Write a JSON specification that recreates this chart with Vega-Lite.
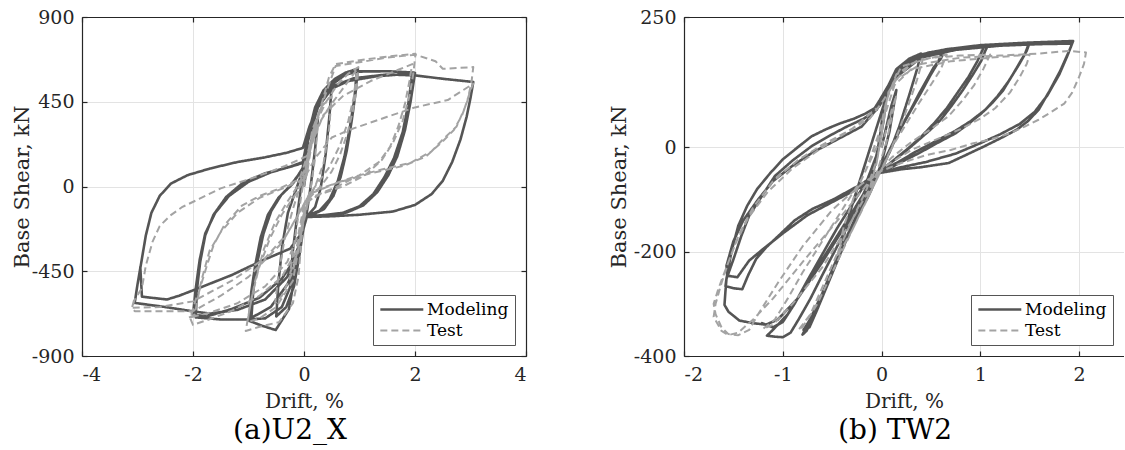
{
"$schema": "https://vega.github.io/schema/vega-lite/v6.json",
"background": "white",
"padding": {"left": 11, "top": 8, "right": 0, "bottom": 0},
"spacing": 158,
"bounds": "flush",
"config": {
 "font": "DejaVu Serif",
 "view": {"stroke": null},
 "axis": {"labelFont": "DejaVu Serif", "titleFont": "DejaVu Serif", "labelFontSize": 19, "titleFontSize": 20, "titleFontWeight": "normal", "labelColor": "#262626", "titleColor": "#262626", "domainColor": "#262626", "domainWidth": 1.2, "tickColor": "#262626", "tickSize": -5, "tickWidth": 1.2, "gridColor": "#e3e3e3", "gridWidth": 1, "labelExpr": "'' + datum.value"},
 "axisX": {"labelPadding": 14, "titlePadding": 7},
 "axisY": {"labelPadding": 13, "titlePadding": 2, "titleFontSize": 21},
 "legend": {"orient": "bottom-right", "offset": 11, "symbolType": "M-1,0H5", "symbolSize": 205, "symbolStrokeWidth": 2.5, "labelOffset": 31, "labelFontSize": 17, "labelFont": "DejaVu Serif", "labelColor": "#000", "strokeColor": "#555", "fillColor": "#fff", "padding": 6, "rowPadding": 3},
 "title": {"font": "DejaVu Serif", "fontWeight": "normal", "fontSize": 28, "color": "#000"}
},
"datasets": {
"a": [
{"s":"Modeling","i":1,"x":0,"y":0},{"s":"Modeling","i":2,"x":0.1,"y":200},{"s":"Modeling","i":3,"x":0.2,"y":320},{"s":"Modeling","i":4,"x":0.25,"y":360},{"s":"Modeling","i":5,"x":0.2,"y":200},{"s":"Modeling","i":6,"x":0.12,"y":0},{"s":"Modeling","i":7,"x":0.05,"y":-140},{"s":"Modeling","i":8,"x":0,"y":-170},{"s":"Modeling","i":9,"x":-0.08,"y":-320},{"s":"Modeling","i":10,"x":-0.18,"y":-470},
{"s":"Modeling","i":11,"x":-0.25,"y":-530},{"s":"Modeling","i":12,"x":-0.2,"y":-340},{"s":"Modeling","i":13,"x":-0.12,"y":-150},{"s":"Modeling","i":14,"x":-0.03,"y":50},{"s":"Modeling","i":15,"x":0.03,"y":150},{"s":"Modeling","i":16,"x":0.1,"y":300},{"s":"Modeling","i":17,"x":0.2,"y":420},{"s":"Modeling","i":18,"x":0.35,"y":500},{"s":"Modeling","i":19,"x":0.5,"y":540},{"s":"Modeling","i":20,"x":0.46,"y":380},
{"s":"Modeling","i":21,"x":0.39,"y":170},{"s":"Modeling","i":22,"x":0.3,"y":-10},{"s":"Modeling","i":23,"x":0.2,"y":-110},{"s":"Modeling","i":24,"x":0.08,"y":-150},{"s":"Modeling","i":25,"x":0.02,"y":-160},{"s":"Modeling","i":26,"x":-0.08,"y":-360},{"s":"Modeling","i":27,"x":-0.18,"y":-530},{"s":"Modeling","i":28,"x":-0.32,"y":-640},{"s":"Modeling","i":29,"x":-0.5,"y":-690},{"s":"Modeling","i":30,"x":-0.46,"y":-510},
{"s":"Modeling","i":31,"x":-0.39,"y":-310},{"s":"Modeling","i":32,"x":-0.29,"y":-140},{"s":"Modeling","i":33,"x":-0.16,"y":-30},{"s":"Modeling","i":34,"x":-0.04,"y":70},{"s":"Modeling","i":35,"x":0.03,"y":170},{"s":"Modeling","i":36,"x":0.08,"y":280},{"s":"Modeling","i":37,"x":0.2,"y":420},{"s":"Modeling","i":38,"x":0.35,"y":510},{"s":"Modeling","i":39,"x":0.55,"y":570},{"s":"Modeling","i":40,"x":0.75,"y":605},
{"s":"Modeling","i":41,"x":0.97,"y":625},{"s":"Modeling","i":42,"x":0.93,"y":500},{"s":"Modeling","i":43,"x":0.86,"y":350},{"s":"Modeling","i":44,"x":0.77,"y":190},{"s":"Modeling","i":45,"x":0.66,"y":50},{"s":"Modeling","i":46,"x":0.53,"y":-50},{"s":"Modeling","i":47,"x":0.36,"y":-120},{"s":"Modeling","i":48,"x":0.15,"y":-150},{"s":"Modeling","i":49,"x":0.03,"y":-158},{"s":"Modeling","i":50,"x":-0.06,"y":-300},
{"s":"Modeling","i":51,"x":-0.14,"y":-430},{"s":"Modeling","i":52,"x":-0.27,"y":-650},{"s":"Modeling","i":53,"x":-0.51,"y":-762},{"s":"Modeling","i":54,"x":-0.75,"y":-740},{"s":"Modeling","i":55,"x":-0.99,"y":-713},{"s":"Modeling","i":56,"x":-0.95,"y":-560},{"s":"Modeling","i":57,"x":-0.88,"y":-420},{"s":"Modeling","i":58,"x":-0.78,"y":-270},{"s":"Modeling","i":59,"x":-0.65,"y":-150},{"s":"Modeling","i":60,"x":-0.46,"y":-60},
{"s":"Modeling","i":61,"x":-0.23,"y":10},{"s":"Modeling","i":62,"x":-0.03,"y":90},{"s":"Modeling","i":63,"x":0.05,"y":200},{"s":"Modeling","i":64,"x":0.12,"y":330},{"s":"Modeling","i":65,"x":0.25,"y":450},{"s":"Modeling","i":66,"x":0.45,"y":540},{"s":"Modeling","i":67,"x":0.7,"y":590},{"s":"Modeling","i":68,"x":0.95,"y":615},{"s":"Modeling","i":69,"x":0.91,"y":470},{"s":"Modeling","i":70,"x":0.83,"y":320},
{"s":"Modeling","i":71,"x":0.73,"y":160},{"s":"Modeling","i":72,"x":0.61,"y":30},{"s":"Modeling","i":73,"x":0.46,"y":-70},{"s":"Modeling","i":74,"x":0.28,"y":-128},{"s":"Modeling","i":75,"x":0.1,"y":-150},{"s":"Modeling","i":76,"x":0.02,"y":-156},{"s":"Modeling","i":77,"x":-0.08,"y":-330},{"s":"Modeling","i":78,"x":-0.2,"y":-500},{"s":"Modeling","i":79,"x":-0.4,"y":-640},{"s":"Modeling","i":80,"x":-0.7,"y":-700},
{"s":"Modeling","i":81,"x":-0.95,"y":-705},{"s":"Modeling","i":82,"x":-0.91,"y":-540},{"s":"Modeling","i":83,"x":-0.84,"y":-400},{"s":"Modeling","i":84,"x":-0.73,"y":-250},{"s":"Modeling","i":85,"x":-0.59,"y":-130},{"s":"Modeling","i":86,"x":-0.41,"y":-45},{"s":"Modeling","i":87,"x":-0.2,"y":15},{"s":"Modeling","i":88,"x":-0.02,"y":100},{"s":"Modeling","i":89,"x":0.1,"y":300},{"s":"Modeling","i":90,"x":0.3,"y":460},
{"s":"Modeling","i":91,"x":0.5,"y":540},{"s":"Modeling","i":92,"x":0.75,"y":595},{"s":"Modeling","i":93,"x":1.0,"y":610},{"s":"Modeling","i":94,"x":1.5,"y":612},{"s":"Modeling","i":95,"x":1.98,"y":605},{"s":"Modeling","i":96,"x":1.9,"y":450},{"s":"Modeling","i":97,"x":1.8,"y":300},{"s":"Modeling","i":98,"x":1.66,"y":160},{"s":"Modeling","i":99,"x":1.5,"y":60},{"s":"Modeling","i":100,"x":1.3,"y":-30},
{"s":"Modeling","i":101,"x":1.05,"y":-100},{"s":"Modeling","i":102,"x":0.75,"y":-138},{"s":"Modeling","i":103,"x":0.4,"y":-152},{"s":"Modeling","i":104,"x":0.1,"y":-158},{"s":"Modeling","i":105,"x":0.03,"y":-162},{"s":"Modeling","i":106,"x":-0.05,"y":-290},{"s":"Modeling","i":107,"x":-0.12,"y":-400},{"s":"Modeling","i":108,"x":-0.3,"y":-520},{"s":"Modeling","i":109,"x":-0.6,"y":-640},{"s":"Modeling","i":110,"x":-1.0,"y":-706},
{"s":"Modeling","i":111,"x":-1.5,"y":-706},{"s":"Modeling","i":112,"x":-1.95,"y":-695},{"s":"Modeling","i":113,"x":-1.93,"y":-550},{"s":"Modeling","i":114,"x":-1.87,"y":-400},{"s":"Modeling","i":115,"x":-1.78,"y":-260},{"s":"Modeling","i":116,"x":-1.63,"y":-150},{"s":"Modeling","i":117,"x":-1.4,"y":-55},{"s":"Modeling","i":118,"x":-1.1,"y":20},{"s":"Modeling","i":119,"x":-0.7,"y":70},{"s":"Modeling","i":120,"x":-0.3,"y":100},
{"s":"Modeling","i":121,"x":-0.02,"y":125},{"s":"Modeling","i":122,"x":0.08,"y":250},{"s":"Modeling","i":123,"x":0.25,"y":420},{"s":"Modeling","i":124,"x":0.5,"y":520},{"s":"Modeling","i":125,"x":0.8,"y":560},{"s":"Modeling","i":126,"x":1.3,"y":585},{"s":"Modeling","i":127,"x":1.95,"y":600},{"s":"Modeling","i":128,"x":1.88,"y":440},{"s":"Modeling","i":129,"x":1.78,"y":290},{"s":"Modeling","i":130,"x":1.62,"y":150},
{"s":"Modeling","i":131,"x":1.45,"y":50},{"s":"Modeling","i":132,"x":1.25,"y":-40},{"s":"Modeling","i":133,"x":1.0,"y":-105},{"s":"Modeling","i":134,"x":0.7,"y":-140},{"s":"Modeling","i":135,"x":0.35,"y":-152},{"s":"Modeling","i":136,"x":0.05,"y":-158},{"s":"Modeling","i":137,"x":-0.05,"y":-260},{"s":"Modeling","i":138,"x":-0.15,"y":-380},{"s":"Modeling","i":139,"x":-0.4,"y":-490},{"s":"Modeling","i":140,"x":-0.8,"y":-590},
{"s":"Modeling","i":141,"x":-1.3,"y":-650},{"s":"Modeling","i":142,"x":-1.75,"y":-690},{"s":"Modeling","i":143,"x":-2.0,"y":-680},{"s":"Modeling","i":144,"x":-1.95,"y":-540},{"s":"Modeling","i":145,"x":-1.88,"y":-390},{"s":"Modeling","i":146,"x":-1.78,"y":-250},{"s":"Modeling","i":147,"x":-1.6,"y":-140},{"s":"Modeling","i":148,"x":-1.35,"y":-50},{"s":"Modeling","i":149,"x":-1.0,"y":25},{"s":"Modeling","i":150,"x":-0.6,"y":75},
{"s":"Modeling","i":151,"x":-0.25,"y":105},{"s":"Modeling","i":152,"x":-0.02,"y":130},{"s":"Modeling","i":153,"x":0.08,"y":280},{"s":"Modeling","i":154,"x":0.25,"y":440},{"s":"Modeling","i":155,"x":0.5,"y":530},{"s":"Modeling","i":156,"x":0.9,"y":575},{"s":"Modeling","i":157,"x":1.5,"y":595},{"s":"Modeling","i":158,"x":2.0,"y":590},{"s":"Modeling","i":159,"x":2.5,"y":572},{"s":"Modeling","i":160,"x":3.05,"y":555},
{"s":"Modeling","i":161,"x":3.0,"y":470},{"s":"Modeling","i":162,"x":2.93,"y":370},{"s":"Modeling","i":163,"x":2.82,"y":250},{"s":"Modeling","i":164,"x":2.67,"y":130},{"s":"Modeling","i":165,"x":2.5,"y":30},{"s":"Modeling","i":166,"x":2.3,"y":-40},{"s":"Modeling","i":167,"x":2.0,"y":-98},{"s":"Modeling","i":168,"x":1.6,"y":-133},{"s":"Modeling","i":169,"x":1.0,"y":-150},{"s":"Modeling","i":170,"x":0.5,"y":-158},
{"s":"Modeling","i":171,"x":0.05,"y":-162},{"s":"Modeling","i":172,"x":-0.1,"y":-320},{"s":"Modeling","i":173,"x":-0.3,"y":-480},{"s":"Modeling","i":174,"x":-0.7,"y":-600},{"s":"Modeling","i":175,"x":-1.2,"y":-655},{"s":"Modeling","i":176,"x":-1.7,"y":-675},{"s":"Modeling","i":177,"x":-2.02,"y":-662},{"s":"Modeling","i":178,"x":-2.5,"y":-640},{"s":"Modeling","i":179,"x":-3.05,"y":-618},{"s":"Modeling","i":180,"x":-3.0,"y":-520},
{"s":"Modeling","i":181,"x":-2.93,"y":-400},{"s":"Modeling","i":182,"x":-2.85,"y":-260},{"s":"Modeling","i":183,"x":-2.75,"y":-140},{"s":"Modeling","i":184,"x":-2.6,"y":-50},{"s":"Modeling","i":185,"x":-2.4,"y":15},{"s":"Modeling","i":186,"x":-2.1,"y":60},{"s":"Modeling","i":187,"x":-1.7,"y":95},{"s":"Modeling","i":188,"x":-1.2,"y":130},{"s":"Modeling","i":189,"x":-0.7,"y":155},{"s":"Modeling","i":190,"x":-0.3,"y":180},
{"s":"Modeling","i":191,"x":-0.02,"y":205},{"s":"Modeling","i":192,"x":0.1,"y":320},{"s":"Modeling","i":193,"x":0.3,"y":460},{"s":"Modeling","i":194,"x":0.5,"y":550},{"s":"Modeling","i":195,"x":0.75,"y":605},{"s":"Modeling","i":196,"x":1.0,"y":612},{"s":"Modeling","i":197,"x":1.53,"y":612},{"s":"Modeling","i":198,"x":2.0,"y":603},{"s":"Modeling","i":199,"x":1.92,"y":450},{"s":"Modeling","i":200,"x":1.82,"y":300},
{"s":"Modeling","i":201,"x":1.68,"y":160},{"s":"Modeling","i":202,"x":1.52,"y":60},{"s":"Modeling","i":203,"x":1.32,"y":-30},{"s":"Modeling","i":204,"x":1.07,"y":-100},{"s":"Modeling","i":205,"x":0.77,"y":-138},{"s":"Modeling","i":206,"x":0.4,"y":-152},{"s":"Modeling","i":207,"x":0.05,"y":-160},{"s":"Modeling","i":208,"x":-0.05,"y":-250},{"s":"Modeling","i":209,"x":-0.25,"y":-330},{"s":"Modeling","i":210,"x":-0.76,"y":-394},
{"s":"Modeling","i":211,"x":-1.3,"y":-470},{"s":"Modeling","i":212,"x":-1.9,"y":-540},{"s":"Modeling","i":213,"x":-2.25,"y":-580},{"s":"Modeling","i":214,"x":-2.47,"y":-600},{"s":"Modeling","i":215,"x":-2.92,"y":-585},{"s":"Modeling","i":216,"x":-2.95,"y":-425},
{"s":"Test","i":1,"x":0,"y":0},{"s":"Test","i":2,"x":0.1,"y":180},{"s":"Test","i":3,"x":0.25,"y":330},{"s":"Test","i":4,"x":0.2,"y":150},{"s":"Test","i":5,"x":0.1,"y":-50},{"s":"Test","i":6,"x":0,"y":-180},{"s":"Test","i":7,"x":-0.1,"y":-330},{"s":"Test","i":8,"x":-0.25,"y":-460},{"s":"Test","i":9,"x":-0.15,"y":-250},{"s":"Test","i":10,"x":-0.05,"y":-50},
{"s":"Test","i":11,"x":0.05,"y":130},{"s":"Test","i":12,"x":0.15,"y":300},{"s":"Test","i":13,"x":0.3,"y":420},{"s":"Test","i":14,"x":0.5,"y":480},{"s":"Test","i":15,"x":0.45,"y":300},{"s":"Test","i":16,"x":0.35,"y":120},{"s":"Test","i":17,"x":0.2,"y":0},{"s":"Test","i":18,"x":0.05,"y":-90},{"s":"Test","i":19,"x":-0.05,"y":-250},{"s":"Test","i":20,"x":-0.2,"y":-450},
{"s":"Test","i":21,"x":-0.4,"y":-580},{"s":"Test","i":22,"x":-0.52,"y":-620},{"s":"Test","i":23,"x":-0.45,"y":-450},{"s":"Test","i":24,"x":-0.35,"y":-280},{"s":"Test","i":25,"x":-0.2,"y":-120},{"s":"Test","i":26,"x":-0.05,"y":20},{"s":"Test","i":27,"x":0.05,"y":140},{"s":"Test","i":28,"x":0.2,"y":330},{"s":"Test","i":29,"x":0.4,"y":450},{"s":"Test","i":30,"x":0.6,"y":540},
{"s":"Test","i":31,"x":0.8,"y":600},{"s":"Test","i":32,"x":0.98,"y":634},{"s":"Test","i":33,"x":0.95,"y":520},{"s":"Test","i":34,"x":0.88,"y":400},{"s":"Test","i":35,"x":0.78,"y":280},{"s":"Test","i":36,"x":0.65,"y":170},{"s":"Test","i":37,"x":0.5,"y":80},{"s":"Test","i":38,"x":0.3,"y":0},{"s":"Test","i":39,"x":0.1,"y":-60},{"s":"Test","i":40,"x":0,"y":-150},
{"s":"Test","i":41,"x":-0.05,"y":-300},{"s":"Test","i":42,"x":-0.1,"y":-480},{"s":"Test","i":43,"x":-0.2,"y":-620},{"s":"Test","i":44,"x":-0.45,"y":-720},{"s":"Test","i":45,"x":-0.8,"y":-745},{"s":"Test","i":46,"x":-1.05,"y":-767},{"s":"Test","i":47,"x":-0.98,"y":-650},{"s":"Test","i":48,"x":-0.88,"y":-500},{"s":"Test","i":49,"x":-0.72,"y":-330},{"s":"Test","i":50,"x":-0.52,"y":-190},
{"s":"Test","i":51,"x":-0.32,"y":-90},{"s":"Test","i":52,"x":-0.12,"y":0},{"s":"Test","i":53,"x":0.03,"y":90},{"s":"Test","i":54,"x":0.2,"y":300},{"s":"Test","i":55,"x":0.45,"y":420},{"s":"Test","i":56,"x":0.7,"y":520},{"s":"Test","i":57,"x":0.95,"y":620},{"s":"Test","i":58,"x":0.9,"y":480},{"s":"Test","i":59,"x":0.8,"y":350},{"s":"Test","i":60,"x":0.65,"y":220},
{"s":"Test","i":61,"x":0.45,"y":100},{"s":"Test","i":62,"x":0.2,"y":0},{"s":"Test","i":63,"x":0.02,"y":-80},{"s":"Test","i":64,"x":-0.08,"y":-300},{"s":"Test","i":65,"x":-0.2,"y":-500},{"s":"Test","i":66,"x":-0.5,"y":-640},{"s":"Test","i":67,"x":-0.8,"y":-700},{"s":"Test","i":68,"x":-1.02,"y":-720},{"s":"Test","i":69,"x":-0.95,"y":-600},{"s":"Test","i":70,"x":-0.82,"y":-440},
{"s":"Test","i":71,"x":-0.62,"y":-280},{"s":"Test","i":72,"x":-0.4,"y":-150},{"s":"Test","i":73,"x":-0.15,"y":-40},{"s":"Test","i":74,"x":0.05,"y":60},{"s":"Test","i":75,"x":0.15,"y":250},{"s":"Test","i":76,"x":0.3,"y":420},{"s":"Test","i":77,"x":0.45,"y":580},{"s":"Test","i":78,"x":0.57,"y":650},{"s":"Test","i":79,"x":1.0,"y":670},{"s":"Test","i":80,"x":1.5,"y":690},
{"s":"Test","i":81,"x":2.01,"y":705},{"s":"Test","i":82,"x":1.97,"y":600},{"s":"Test","i":83,"x":1.9,"y":480},{"s":"Test","i":84,"x":1.78,"y":350},{"s":"Test","i":85,"x":1.6,"y":230},{"s":"Test","i":86,"x":1.4,"y":140},{"s":"Test","i":87,"x":1.1,"y":60},{"s":"Test","i":88,"x":0.7,"y":0},{"s":"Test","i":89,"x":0.3,"y":-40},{"s":"Test","i":90,"x":0.05,"y":-80},
{"s":"Test","i":91,"x":-0.05,"y":-200},{"s":"Test","i":92,"x":-0.15,"y":-350},{"s":"Test","i":93,"x":-0.4,"y":-480},{"s":"Test","i":94,"x":-0.8,"y":-580},{"s":"Test","i":95,"x":-1.3,"y":-660},{"s":"Test","i":96,"x":-1.7,"y":-705},{"s":"Test","i":97,"x":-2.0,"y":-735},{"s":"Test","i":98,"x":-2.05,"y":-700},{"s":"Test","i":99,"x":-1.95,"y":-600},{"s":"Test","i":100,"x":-1.89,"y":-557},
{"s":"Test","i":101,"x":-1.75,"y":-420},{"s":"Test","i":102,"x":-1.63,"y":-312},{"s":"Test","i":103,"x":-1.44,"y":-207},{"s":"Test","i":104,"x":-1.12,"y":-102},{"s":"Test","i":105,"x":-0.8,"y":-50},{"s":"Test","i":106,"x":-0.47,"y":-14},{"s":"Test","i":107,"x":-0.08,"y":39},{"s":"Test","i":108,"x":0.1,"y":200},{"s":"Test","i":109,"x":0.35,"y":380},{"s":"Test","i":110,"x":0.7,"y":480},
{"s":"Test","i":111,"x":1.2,"y":560},{"s":"Test","i":112,"x":1.7,"y":620},{"s":"Test","i":113,"x":1.95,"y":650},{"s":"Test","i":114,"x":1.9,"y":560},{"s":"Test","i":115,"x":1.82,"y":440},{"s":"Test","i":116,"x":1.7,"y":320},{"s":"Test","i":117,"x":1.55,"y":210},{"s":"Test","i":118,"x":1.35,"y":130},{"s":"Test","i":119,"x":1.0,"y":60},{"s":"Test","i":120,"x":0.6,"y":0},
{"s":"Test","i":121,"x":0.2,"y":-50},{"s":"Test","i":122,"x":0,"y":-100},{"s":"Test","i":123,"x":-0.1,"y":-250},{"s":"Test","i":124,"x":-0.3,"y":-400},{"s":"Test","i":125,"x":-0.7,"y":-530},{"s":"Test","i":126,"x":-1.2,"y":-620},{"s":"Test","i":127,"x":-1.7,"y":-670},{"s":"Test","i":128,"x":-2.08,"y":-697},{"s":"Test","i":129,"x":-1.97,"y":-680},{"s":"Test","i":130,"x":-1.85,"y":-500},
{"s":"Test","i":131,"x":-1.7,"y":-340},{"s":"Test","i":132,"x":-1.5,"y":-242},{"s":"Test","i":133,"x":-1.2,"y":-140},{"s":"Test","i":134,"x":-0.8,"y":-60},{"s":"Test","i":135,"x":-0.3,"y":0},{"s":"Test","i":136,"x":0,"y":40},{"s":"Test","i":137,"x":0.2,"y":150},{"s":"Test","i":138,"x":0.5,"y":260},{"s":"Test","i":139,"x":0.82,"y":301},{"s":"Test","i":140,"x":1.5,"y":370},
{"s":"Test","i":141,"x":2.0,"y":420},{"s":"Test","i":142,"x":2.59,"y":459},{"s":"Test","i":143,"x":3.05,"y":546},{"s":"Test","i":144,"x":3.0,"y":511},{"s":"Test","i":145,"x":2.9,"y":420},{"s":"Test","i":146,"x":2.75,"y":319},{"s":"Test","i":147,"x":2.5,"y":249},{"s":"Test","i":148,"x":2.3,"y":187},{"s":"Test","i":149,"x":1.92,"y":126},{"s":"Test","i":150,"x":1.4,"y":90},
{"s":"Test","i":151,"x":0.95,"y":56},{"s":"Test","i":152,"x":0.5,"y":10},{"s":"Test","i":153,"x":0.11,"y":-31},{"s":"Test","i":154,"x":-0.05,"y":-120},{"s":"Test","i":155,"x":-0.3,"y":-250},{"s":"Test","i":156,"x":-0.7,"y":-380},{"s":"Test","i":157,"x":-1.3,"y":-500},{"s":"Test","i":158,"x":-2.0,"y":-610},{"s":"Test","i":159,"x":-2.6,"y":-640},{"s":"Test","i":160,"x":-3.1,"y":-644},
{"s":"Test","i":161,"x":-3.05,"y":-600},{"s":"Test","i":162,"x":-2.92,"y":-539},{"s":"Test","i":163,"x":-2.85,"y":-420},{"s":"Test","i":164,"x":-2.73,"y":-294},{"s":"Test","i":165,"x":-2.6,"y":-210},{"s":"Test","i":166,"x":-2.41,"y":-154},{"s":"Test","i":167,"x":-2.2,"y":-110},{"s":"Test","i":168,"x":-1.89,"y":-66},{"s":"Test","i":169,"x":-1.5,"y":-10},{"s":"Test","i":170,"x":-0.99,"y":39},
{"s":"Test","i":171,"x":-0.6,"y":80},{"s":"Test","i":172,"x":-0.34,"y":109},{"s":"Test","i":173,"x":0.05,"y":161},{"s":"Test","i":174,"x":0.2,"y":320},{"s":"Test","i":175,"x":0.4,"y":500},{"s":"Test","i":176,"x":0.57,"y":640},{"s":"Test","i":177,"x":1.0,"y":660},{"s":"Test","i":178,"x":1.5,"y":685},{"s":"Test","i":179,"x":2.01,"y":700},{"s":"Test","i":180,"x":2.37,"y":665},
{"s":"Test","i":181,"x":2.5,"y":625},{"s":"Test","i":182,"x":3.05,"y":634},{"s":"Test","i":183,"x":3.02,"y":560},{"s":"Test","i":184,"x":2.95,"y":460},{"s":"Test","i":185,"x":2.85,"y":380},{"s":"Test","i":186,"x":2.7,"y":300},{"s":"Test","i":187,"x":2.5,"y":240},{"s":"Test","i":188,"x":2.2,"y":160},{"s":"Test","i":189,"x":1.8,"y":110},{"s":"Test","i":190,"x":1.2,"y":70},
{"s":"Test","i":191,"x":0.6,"y":20},{"s":"Test","i":192,"x":0.1,"y":-40},{"s":"Test","i":193,"x":-0.1,"y":-150},{"s":"Test","i":194,"x":-0.4,"y":-300},{"s":"Test","i":195,"x":-1.0,"y":-480},{"s":"Test","i":196,"x":-1.5,"y":-580},{"s":"Test","i":197,"x":-2.0,"y":-662},{"s":"Test","i":198,"x":-2.5,"y":-662},{"s":"Test","i":199,"x":-3.05,"y":-662},{"s":"Test","i":200,"x":-3.1,"y":-644},
{"s":"Test","i":201,"x":-3.05,"y":-590}
],
"b": [
{"s":"Modeling","i":1,"x":0,"y":0},{"s":"Modeling","i":2,"x":0.1,"y":80},{"s":"Modeling","i":3,"x":0.15,"y":110},{"s":"Modeling","i":4,"x":0.08,"y":30},{"s":"Modeling","i":5,"x":0,"y":-30},{"s":"Modeling","i":6,"x":-0.1,"y":-80},{"s":"Modeling","i":7,"x":-0.15,"y":-100},{"s":"Modeling","i":8,"x":-0.08,"y":-40},{"s":"Modeling","i":9,"x":0,"y":30},{"s":"Modeling","i":10,"x":0.06,"y":115},
{"s":"Modeling","i":11,"x":0.15,"y":150},{"s":"Modeling","i":12,"x":0.28,"y":170},{"s":"Modeling","i":13,"x":0.4,"y":180},{"s":"Modeling","i":14,"x":0.36,"y":150},{"s":"Modeling","i":15,"x":0.28,"y":100},{"s":"Modeling","i":16,"x":0.18,"y":40},{"s":"Modeling","i":17,"x":0.08,"y":-10},{"s":"Modeling","i":18,"x":-0.02,"y":-45},{"s":"Modeling","i":19,"x":-0.15,"y":-95},{"s":"Modeling","i":20,"x":-0.3,"y":-150},
{"s":"Modeling","i":21,"x":-0.4,"y":-190},{"s":"Modeling","i":22,"x":-0.36,"y":-150},{"s":"Modeling","i":23,"x":-0.28,"y":-100},{"s":"Modeling","i":24,"x":-0.18,"y":-40},{"s":"Modeling","i":25,"x":-0.08,"y":20},{"s":"Modeling","i":26,"x":0.02,"y":80},{"s":"Modeling","i":27,"x":0.08,"y":120},{"s":"Modeling","i":28,"x":0.18,"y":150},{"s":"Modeling","i":29,"x":0.32,"y":172},{"s":"Modeling","i":30,"x":0.48,"y":182},
{"s":"Modeling","i":31,"x":0.64,"y":187},{"s":"Modeling","i":32,"x":0.6,"y":170},{"s":"Modeling","i":33,"x":0.53,"y":154},{"s":"Modeling","i":34,"x":0.46,"y":130},{"s":"Modeling","i":35,"x":0.38,"y":103},{"s":"Modeling","i":36,"x":0.29,"y":70},{"s":"Modeling","i":37,"x":0.2,"y":40},{"s":"Modeling","i":38,"x":0.12,"y":10},{"s":"Modeling","i":39,"x":0.05,"y":-17},{"s":"Modeling","i":40,"x":-0.02,"y":-45},
{"s":"Modeling","i":41,"x":-0.06,"y":-50},{"s":"Modeling","i":42,"x":-0.2,"y":-110},{"s":"Modeling","i":43,"x":-0.4,"y":-190},{"s":"Modeling","i":44,"x":-0.6,"y":-280},{"s":"Modeling","i":45,"x":-0.75,"y":-340},{"s":"Modeling","i":46,"x":-0.8,"y":-359},{"s":"Modeling","i":47,"x":-0.76,"y":-352},{"s":"Modeling","i":48,"x":-0.7,"y":-330},{"s":"Modeling","i":49,"x":-0.64,"y":-300},{"s":"Modeling","i":50,"x":-0.53,"y":-250},
{"s":"Modeling","i":51,"x":-0.42,"y":-200},{"s":"Modeling","i":52,"x":-0.3,"y":-150},{"s":"Modeling","i":53,"x":-0.16,"y":-95},{"s":"Modeling","i":54,"x":-0.06,"y":-30},{"s":"Modeling","i":55,"x":-0.01,"y":30},{"s":"Modeling","i":56,"x":0.03,"y":90},{"s":"Modeling","i":57,"x":0.1,"y":125},{"s":"Modeling","i":58,"x":0.22,"y":155},{"s":"Modeling","i":59,"x":0.4,"y":178},{"s":"Modeling","i":60,"x":0.62,"y":186},
{"s":"Modeling","i":61,"x":0.57,"y":162},{"s":"Modeling","i":62,"x":0.5,"y":140},{"s":"Modeling","i":63,"x":0.4,"y":105},{"s":"Modeling","i":64,"x":0.3,"y":72},{"s":"Modeling","i":65,"x":0.2,"y":38},{"s":"Modeling","i":66,"x":0.1,"y":0},{"s":"Modeling","i":67,"x":0.02,"y":-35},{"s":"Modeling","i":68,"x":-0.06,"y":-52},{"s":"Modeling","i":69,"x":-0.22,"y":-120},{"s":"Modeling","i":70,"x":-0.42,"y":-205},
{"s":"Modeling","i":71,"x":-0.6,"y":-285},{"s":"Modeling","i":72,"x":-0.74,"y":-335},{"s":"Modeling","i":73,"x":-0.79,"y":-350},{"s":"Modeling","i":74,"x":-0.73,"y":-345},{"s":"Modeling","i":75,"x":-0.66,"y":-315},{"s":"Modeling","i":76,"x":-0.55,"y":-265},{"s":"Modeling","i":77,"x":-0.43,"y":-210},{"s":"Modeling","i":78,"x":-0.3,"y":-150},{"s":"Modeling","i":79,"x":-0.17,"y":-95},{"s":"Modeling","i":80,"x":-0.07,"y":-35},
{"s":"Modeling","i":81,"x":0,"y":30},{"s":"Modeling","i":82,"x":0.04,"y":95},{"s":"Modeling","i":83,"x":0.1,"y":125},{"s":"Modeling","i":84,"x":0.22,"y":155},{"s":"Modeling","i":85,"x":0.4,"y":178},{"s":"Modeling","i":86,"x":0.65,"y":188},{"s":"Modeling","i":87,"x":0.9,"y":193},{"s":"Modeling","i":88,"x":1.08,"y":196},{"s":"Modeling","i":89,"x":1.05,"y":185},{"s":"Modeling","i":90,"x":1.01,"y":166},
{"s":"Modeling","i":91,"x":0.92,"y":138},{"s":"Modeling","i":92,"x":0.82,"y":109},{"s":"Modeling","i":93,"x":0.71,"y":80},{"s":"Modeling","i":94,"x":0.6,"y":53},{"s":"Modeling","i":95,"x":0.49,"y":33},{"s":"Modeling","i":96,"x":0.38,"y":15},{"s":"Modeling","i":97,"x":0.24,"y":-8},{"s":"Modeling","i":98,"x":0.09,"y":-30},{"s":"Modeling","i":99,"x":-0.02,"y":-48},{"s":"Modeling","i":100,"x":-0.06,"y":-52},
{"s":"Modeling","i":101,"x":-0.25,"y":-110},{"s":"Modeling","i":102,"x":-0.5,"y":-190},{"s":"Modeling","i":103,"x":-0.75,"y":-260},{"s":"Modeling","i":104,"x":-0.95,"y":-320},{"s":"Modeling","i":105,"x":-1.1,"y":-350},{"s":"Modeling","i":106,"x":-1.16,"y":-361},{"s":"Modeling","i":107,"x":-1.08,"y":-363},{"s":"Modeling","i":108,"x":-1.0,"y":-364},{"s":"Modeling","i":109,"x":-0.92,"y":-355},{"s":"Modeling","i":110,"x":-0.84,"y":-330},
{"s":"Modeling","i":111,"x":-0.72,"y":-290},{"s":"Modeling","i":112,"x":-0.6,"y":-245},{"s":"Modeling","i":113,"x":-0.45,"y":-190},{"s":"Modeling","i":114,"x":-0.3,"y":-135},{"s":"Modeling","i":115,"x":-0.16,"y":-80},{"s":"Modeling","i":116,"x":-0.05,"y":-20},{"s":"Modeling","i":117,"x":0.01,"y":40},{"s":"Modeling","i":118,"x":0.04,"y":95},{"s":"Modeling","i":119,"x":0.12,"y":130},{"s":"Modeling","i":120,"x":0.28,"y":162},
{"s":"Modeling","i":121,"x":0.5,"y":182},{"s":"Modeling","i":122,"x":0.8,"y":190},{"s":"Modeling","i":123,"x":1.04,"y":194},{"s":"Modeling","i":124,"x":0.97,"y":165},{"s":"Modeling","i":125,"x":0.88,"y":135},{"s":"Modeling","i":126,"x":0.77,"y":105},{"s":"Modeling","i":127,"x":0.66,"y":75},{"s":"Modeling","i":128,"x":0.54,"y":48},{"s":"Modeling","i":129,"x":0.4,"y":20},{"s":"Modeling","i":130,"x":0.25,"y":-5},
{"s":"Modeling","i":131,"x":0.1,"y":-28},{"s":"Modeling","i":132,"x":-0.03,"y":-48},{"s":"Modeling","i":133,"x":-0.3,"y":-125},{"s":"Modeling","i":134,"x":-0.6,"y":-215},{"s":"Modeling","i":135,"x":-0.85,"y":-290},{"s":"Modeling","i":136,"x":-1.05,"y":-330},{"s":"Modeling","i":137,"x":-1.17,"y":-340},{"s":"Modeling","i":138,"x":-1.21,"y":-337},{"s":"Modeling","i":139,"x":-1.1,"y":-345},{"s":"Modeling","i":140,"x":-1.0,"y":-335},
{"s":"Modeling","i":141,"x":-0.88,"y":-300},{"s":"Modeling","i":142,"x":-0.75,"y":-255},{"s":"Modeling","i":143,"x":-0.6,"y":-205},{"s":"Modeling","i":144,"x":-0.45,"y":-155},{"s":"Modeling","i":145,"x":-0.3,"y":-110},{"s":"Modeling","i":146,"x":-0.15,"y":-65},{"s":"Modeling","i":147,"x":-0.05,"y":-15},{"s":"Modeling","i":148,"x":0.02,"y":50},{"s":"Modeling","i":149,"x":0.05,"y":100},{"s":"Modeling","i":150,"x":0.14,"y":135},
{"s":"Modeling","i":151,"x":0.3,"y":165},{"s":"Modeling","i":152,"x":0.55,"y":183},{"s":"Modeling","i":153,"x":0.85,"y":192},{"s":"Modeling","i":154,"x":1.1,"y":196},{"s":"Modeling","i":155,"x":1.3,"y":199},{"s":"Modeling","i":156,"x":1.5,"y":201},{"s":"Modeling","i":157,"x":1.47,"y":185},{"s":"Modeling","i":158,"x":1.41,"y":166},{"s":"Modeling","i":159,"x":1.33,"y":140},{"s":"Modeling","i":160,"x":1.23,"y":109},
{"s":"Modeling","i":161,"x":1.12,"y":85},{"s":"Modeling","i":162,"x":1.01,"y":65},{"s":"Modeling","i":163,"x":0.88,"y":45},{"s":"Modeling","i":164,"x":0.75,"y":27},{"s":"Modeling","i":165,"x":0.56,"y":8},{"s":"Modeling","i":166,"x":0.38,"y":-11},{"s":"Modeling","i":167,"x":0.2,"y":-28},{"s":"Modeling","i":168,"x":0.02,"y":-46},{"s":"Modeling","i":169,"x":-0.06,"y":-52},{"s":"Modeling","i":170,"x":-0.3,"y":-130},
{"s":"Modeling","i":171,"x":-0.6,"y":-220},{"s":"Modeling","i":172,"x":-0.85,"y":-290},{"s":"Modeling","i":173,"x":-1.05,"y":-330},{"s":"Modeling","i":174,"x":-1.17,"y":-340},{"s":"Modeling","i":175,"x":-1.3,"y":-337},{"s":"Modeling","i":176,"x":-1.44,"y":-332},{"s":"Modeling","i":177,"x":-1.55,"y":-315},{"s":"Modeling","i":178,"x":-1.59,"y":-302},{"s":"Modeling","i":179,"x":-1.58,"y":-275},{"s":"Modeling","i":180,"x":-1.57,"y":-252},
{"s":"Modeling","i":181,"x":-1.52,"y":-200},{"s":"Modeling","i":182,"x":-1.45,"y":-150},{"s":"Modeling","i":183,"x":-1.36,"y":-112},{"s":"Modeling","i":184,"x":-1.26,"y":-80},{"s":"Modeling","i":185,"x":-1.13,"y":-50},{"s":"Modeling","i":186,"x":-1.0,"y":-23},{"s":"Modeling","i":187,"x":-0.85,"y":0},{"s":"Modeling","i":188,"x":-0.71,"y":21},{"s":"Modeling","i":189,"x":-0.56,"y":35},{"s":"Modeling","i":190,"x":-0.42,"y":46},
{"s":"Modeling","i":191,"x":-0.28,"y":55},{"s":"Modeling","i":192,"x":-0.16,"y":65},{"s":"Modeling","i":193,"x":-0.07,"y":75},{"s":"Modeling","i":194,"x":-0.02,"y":90},{"s":"Modeling","i":195,"x":0.12,"y":135},{"s":"Modeling","i":196,"x":0.28,"y":162},{"s":"Modeling","i":197,"x":0.55,"y":182},{"s":"Modeling","i":198,"x":0.9,"y":192},{"s":"Modeling","i":199,"x":1.2,"y":196},{"s":"Modeling","i":200,"x":1.49,"y":198},
{"s":"Modeling","i":201,"x":1.45,"y":178},{"s":"Modeling","i":202,"x":1.38,"y":155},{"s":"Modeling","i":203,"x":1.28,"y":125},{"s":"Modeling","i":204,"x":1.17,"y":97},{"s":"Modeling","i":205,"x":1.05,"y":72},{"s":"Modeling","i":206,"x":0.9,"y":50},{"s":"Modeling","i":207,"x":0.75,"y":32},{"s":"Modeling","i":208,"x":0.55,"y":12},{"s":"Modeling","i":209,"x":0.35,"y":-8},{"s":"Modeling","i":210,"x":0.15,"y":-30},
{"s":"Modeling","i":211,"x":-0.03,"y":-48},{"s":"Modeling","i":212,"x":-0.2,"y":-70},{"s":"Modeling","i":213,"x":-0.49,"y":-100},{"s":"Modeling","i":214,"x":-0.7,"y":-118},{"s":"Modeling","i":215,"x":-0.88,"y":-140},{"s":"Modeling","i":216,"x":-1.04,"y":-169},{"s":"Modeling","i":217,"x":-1.17,"y":-192},{"s":"Modeling","i":218,"x":-1.27,"y":-214},{"s":"Modeling","i":219,"x":-1.35,"y":-245},{"s":"Modeling","i":220,"x":-1.41,"y":-272},
{"s":"Modeling","i":221,"x":-1.5,"y":-270},{"s":"Modeling","i":222,"x":-1.58,"y":-266},{"s":"Modeling","i":223,"x":-1.57,"y":-252},{"s":"Modeling","i":224,"x":-1.5,"y":-215},{"s":"Modeling","i":225,"x":-1.42,"y":-170},{"s":"Modeling","i":226,"x":-1.34,"y":-131},{"s":"Modeling","i":227,"x":-1.2,"y":-90},{"s":"Modeling","i":228,"x":-1.08,"y":-55},{"s":"Modeling","i":229,"x":-0.9,"y":-25},{"s":"Modeling","i":230,"x":-0.71,"y":2},
{"s":"Modeling","i":231,"x":-0.5,"y":25},{"s":"Modeling","i":232,"x":-0.35,"y":40},{"s":"Modeling","i":233,"x":-0.18,"y":55},{"s":"Modeling","i":234,"x":-0.05,"y":72},{"s":"Modeling","i":235,"x":0.02,"y":95},{"s":"Modeling","i":236,"x":0.15,"y":140},{"s":"Modeling","i":237,"x":0.35,"y":172},{"s":"Modeling","i":238,"x":0.65,"y":188},{"s":"Modeling","i":239,"x":1.0,"y":196},{"s":"Modeling","i":240,"x":1.5,"y":201},
{"s":"Modeling","i":241,"x":1.94,"y":204},{"s":"Modeling","i":242,"x":1.9,"y":185},{"s":"Modeling","i":243,"x":1.81,"y":147},{"s":"Modeling","i":244,"x":1.7,"y":108},{"s":"Modeling","i":245,"x":1.59,"y":72},{"s":"Modeling","i":246,"x":1.48,"y":50},{"s":"Modeling","i":247,"x":1.37,"y":34},{"s":"Modeling","i":248,"x":1.2,"y":17},{"s":"Modeling","i":249,"x":1.04,"y":2},{"s":"Modeling","i":250,"x":0.85,"y":-15},
{"s":"Modeling","i":251,"x":0.68,"y":-30},{"s":"Modeling","i":252,"x":0.4,"y":-38},{"s":"Modeling","i":253,"x":0.2,"y":-42},{"s":"Modeling","i":254,"x":-0.02,"y":-49},{"s":"Modeling","i":255,"x":-0.2,"y":-75},{"s":"Modeling","i":256,"x":-0.45,"y":-100},{"s":"Modeling","i":257,"x":-0.75,"y":-130},{"s":"Modeling","i":258,"x":-1.0,"y":-165},{"s":"Modeling","i":259,"x":-1.2,"y":-195},{"s":"Modeling","i":260,"x":-1.34,"y":-217},
{"s":"Modeling","i":261,"x":-1.46,"y":-249},{"s":"Modeling","i":262,"x":-1.56,"y":-246},{"s":"Modeling","i":263,"x":-1.57,"y":-227},{"s":"Modeling","i":264,"x":-1.5,"y":-180},{"s":"Modeling","i":265,"x":-1.4,"y":-140},{"s":"Modeling","i":266,"x":-1.25,"y":-100},{"s":"Modeling","i":267,"x":-1.1,"y":-65},{"s":"Modeling","i":268,"x":-0.9,"y":-35},{"s":"Modeling","i":269,"x":-0.7,"y":-10},{"s":"Modeling","i":270,"x":-0.45,"y":15},
{"s":"Modeling","i":271,"x":-0.2,"y":40},{"s":"Modeling","i":272,"x":-0.02,"y":80},{"s":"Modeling","i":273,"x":0.15,"y":135},{"s":"Modeling","i":274,"x":0.4,"y":172},{"s":"Modeling","i":275,"x":0.75,"y":187},{"s":"Modeling","i":276,"x":1.2,"y":195},{"s":"Modeling","i":277,"x":1.6,"y":198},{"s":"Modeling","i":278,"x":1.93,"y":199},{"s":"Modeling","i":279,"x":1.88,"y":175},{"s":"Modeling","i":280,"x":1.8,"y":140},
{"s":"Modeling","i":281,"x":1.68,"y":100},{"s":"Modeling","i":282,"x":1.55,"y":68},{"s":"Modeling","i":283,"x":1.4,"y":45},{"s":"Modeling","i":284,"x":1.2,"y":25},{"s":"Modeling","i":285,"x":1.0,"y":8},{"s":"Modeling","i":286,"x":0.75,"y":-12},{"s":"Modeling","i":287,"x":0.45,"y":-28},{"s":"Modeling","i":288,"x":0.2,"y":-38},{"s":"Modeling","i":289,"x":0,"y":-48},
{"s":"Test","i":1,"x":0,"y":0},{"s":"Test","i":2,"x":0.1,"y":70},{"s":"Test","i":3,"x":0.15,"y":100},{"s":"Test","i":4,"x":0.05,"y":10},{"s":"Test","i":5,"x":-0.05,"y":-50},{"s":"Test","i":6,"x":-0.15,"y":-100},{"s":"Test","i":7,"x":-0.05,"y":-30},{"s":"Test","i":8,"x":0.03,"y":60},{"s":"Test","i":9,"x":0.15,"y":130},{"s":"Test","i":10,"x":0.3,"y":160},
{"s":"Test","i":11,"x":0.42,"y":170},{"s":"Test","i":12,"x":0.36,"y":130},{"s":"Test","i":13,"x":0.27,"y":80},{"s":"Test","i":14,"x":0.15,"y":20},{"s":"Test","i":15,"x":0.03,"y":-30},{"s":"Test","i":16,"x":-0.12,"y":-90},{"s":"Test","i":17,"x":-0.3,"y":-160},{"s":"Test","i":18,"x":-0.45,"y":-210},{"s":"Test","i":19,"x":-0.38,"y":-150},{"s":"Test","i":20,"x":-0.27,"y":-90},
{"s":"Test","i":21,"x":-0.15,"y":-40},{"s":"Test","i":22,"x":-0.02,"y":30},{"s":"Test","i":23,"x":0.05,"y":90},{"s":"Test","i":24,"x":0.15,"y":140},{"s":"Test","i":25,"x":0.35,"y":165},{"s":"Test","i":26,"x":0.66,"y":178},{"s":"Test","i":27,"x":0.6,"y":150},{"s":"Test","i":28,"x":0.5,"y":120},{"s":"Test","i":29,"x":0.38,"y":85},{"s":"Test","i":30,"x":0.25,"y":45},
{"s":"Test","i":31,"x":0.12,"y":5},{"s":"Test","i":32,"x":0.02,"y":-35},{"s":"Test","i":33,"x":-0.2,"y":-120},{"s":"Test","i":34,"x":-0.45,"y":-220},{"s":"Test","i":35,"x":-0.65,"y":-300},{"s":"Test","i":36,"x":-0.8,"y":-345},{"s":"Test","i":37,"x":-0.84,"y":-350},{"s":"Test","i":38,"x":-0.72,"y":-320},{"s":"Test","i":39,"x":-0.58,"y":-260},{"s":"Test","i":40,"x":-0.44,"y":-200},
{"s":"Test","i":41,"x":-0.3,"y":-140},{"s":"Test","i":42,"x":-0.15,"y":-80},{"s":"Test","i":43,"x":-0.04,"y":-20},{"s":"Test","i":44,"x":0.02,"y":50},{"s":"Test","i":45,"x":0.06,"y":100},{"s":"Test","i":46,"x":0.2,"y":155},{"s":"Test","i":47,"x":0.5,"y":172},{"s":"Test","i":48,"x":0.8,"y":176},{"s":"Test","i":49,"x":1.1,"y":178},{"s":"Test","i":50,"x":1.03,"y":150},
{"s":"Test","i":51,"x":0.94,"y":120},{"s":"Test","i":52,"x":0.82,"y":90},{"s":"Test","i":53,"x":0.68,"y":60},{"s":"Test","i":54,"x":0.5,"y":35},{"s":"Test","i":55,"x":0.3,"y":10},{"s":"Test","i":56,"x":0.1,"y":-20},{"s":"Test","i":57,"x":-0.02,"y":-45},{"s":"Test","i":58,"x":-0.3,"y":-140},{"s":"Test","i":59,"x":-0.6,"y":-230},{"s":"Test","i":60,"x":-0.9,"y":-300},
{"s":"Test","i":61,"x":-1.1,"y":-340},{"s":"Test","i":62,"x":-1.2,"y":-348},{"s":"Test","i":63,"x":-1.08,"y":-330},{"s":"Test","i":64,"x":-0.95,"y":-290},{"s":"Test","i":65,"x":-0.8,"y":-240},{"s":"Test","i":66,"x":-0.6,"y":-180},{"s":"Test","i":67,"x":-0.4,"y":-120},{"s":"Test","i":68,"x":-0.2,"y":-60},{"s":"Test","i":69,"x":-0.05,"y":0},{"s":"Test","i":70,"x":0.03,"y":70},
{"s":"Test","i":71,"x":0.08,"y":110},{"s":"Test","i":72,"x":0.3,"y":150},{"s":"Test","i":73,"x":0.7,"y":165},{"s":"Test","i":74,"x":1.1,"y":172},{"s":"Test","i":75,"x":1.5,"y":178},{"s":"Test","i":76,"x":1.47,"y":160},{"s":"Test","i":77,"x":1.4,"y":135},{"s":"Test","i":78,"x":1.3,"y":105},{"s":"Test","i":79,"x":1.15,"y":75},{"s":"Test","i":80,"x":1.0,"y":55},
{"s":"Test","i":81,"x":0.8,"y":35},{"s":"Test","i":82,"x":0.55,"y":15},{"s":"Test","i":83,"x":0.3,"y":-5},{"s":"Test","i":84,"x":0.05,"y":-35},{"s":"Test","i":85,"x":-0.1,"y":-60},{"s":"Test","i":86,"x":-0.4,"y":-130},{"s":"Test","i":87,"x":-0.8,"y":-220},{"s":"Test","i":88,"x":-1.1,"y":-290},{"s":"Test","i":89,"x":-1.3,"y":-330},{"s":"Test","i":90,"x":-1.45,"y":-355},
{"s":"Test","i":91,"x":-1.55,"y":-360},{"s":"Test","i":92,"x":-1.62,"y":-352},{"s":"Test","i":93,"x":-1.7,"y":-325},{"s":"Test","i":94,"x":-1.68,"y":-300},{"s":"Test","i":95,"x":-1.62,"y":-260},{"s":"Test","i":96,"x":-1.55,"y":-220},{"s":"Test","i":97,"x":-1.45,"y":-170},{"s":"Test","i":98,"x":-1.3,"y":-115},{"s":"Test","i":99,"x":-1.1,"y":-65},{"s":"Test","i":100,"x":-0.85,"y":-25},
{"s":"Test","i":101,"x":-0.6,"y":5},{"s":"Test","i":102,"x":-0.35,"y":30},{"s":"Test","i":103,"x":-0.12,"y":55},{"s":"Test","i":104,"x":0,"y":85},{"s":"Test","i":105,"x":0.15,"y":130},{"s":"Test","i":106,"x":0.4,"y":160},{"s":"Test","i":107,"x":0.8,"y":172},{"s":"Test","i":108,"x":1.2,"y":176},{"s":"Test","i":109,"x":1.6,"y":180},{"s":"Test","i":110,"x":1.9,"y":185},
{"s":"Test","i":111,"x":2.07,"y":182},{"s":"Test","i":112,"x":2.05,"y":160},{"s":"Test","i":113,"x":2.0,"y":135},{"s":"Test","i":114,"x":1.93,"y":105},{"s":"Test","i":115,"x":1.85,"y":84},{"s":"Test","i":116,"x":1.72,"y":68},{"s":"Test","i":117,"x":1.59,"y":53},{"s":"Test","i":118,"x":1.45,"y":40},{"s":"Test","i":119,"x":1.3,"y":27},{"s":"Test","i":120,"x":1.1,"y":15},
{"s":"Test","i":121,"x":0.93,"y":8},{"s":"Test","i":122,"x":0.7,"y":-5},{"s":"Test","i":123,"x":0.45,"y":-15},{"s":"Test","i":124,"x":0.2,"y":-30},{"s":"Test","i":125,"x":0,"y":-45},{"s":"Test","i":126,"x":-0.2,"y":-70},{"s":"Test","i":127,"x":-0.5,"y":-120},{"s":"Test","i":128,"x":-0.8,"y":-190},{"s":"Test","i":129,"x":-1.05,"y":-260},{"s":"Test","i":130,"x":-1.25,"y":-320},
{"s":"Test","i":131,"x":-1.34,"y":-350},{"s":"Test","i":132,"x":-1.45,"y":-360},{"s":"Test","i":133,"x":-1.55,"y":-358},{"s":"Test","i":134,"x":-1.62,"y":-345},{"s":"Test","i":135,"x":-1.68,"y":-320},{"s":"Test","i":136,"x":-1.7,"y":-300},{"s":"Test","i":137,"x":-1.65,"y":-270},{"s":"Test","i":138,"x":-1.58,"y":-235},{"s":"Test","i":139,"x":-1.48,"y":-185},{"s":"Test","i":140,"x":-1.35,"y":-135},
{"s":"Test","i":141,"x":-1.15,"y":-85},{"s":"Test","i":142,"x":-0.9,"y":-40},{"s":"Test","i":143,"x":-0.6,"y":0},{"s":"Test","i":144,"x":-0.3,"y":35},{"s":"Test","i":145,"x":-0.05,"y":75}
]
},
"hconcat": [
 {
  "width": 444, "height": 339,
  "data": {"name": "a"},
  "title": {"text": "(a)U2_X", "orient": "bottom", "offset": 6, "dx": -14},
  "layer": [
   {"mark": {"type": "line", "strokeJoin": "round"},
    "encoding": {
     "x": {"field": "x", "type": "quantitative", "scale": {"domain": [-4, 4], "nice": false, "zero": false}, "axis": {"values": [-4, -2, 0, 2, 4], "title": "Drift, %", "grid": true}},
     "y": {"field": "y", "type": "quantitative", "scale": {"domain": [-900, 900], "nice": false}, "axis": {"values": [-900, -450, 0, 450, 900], "title": "Base Shear, kN", "grid": true, "titlePadding": 2, "minExtent": 48, "maxExtent": 48}},
     "color": {"field": "s", "type": "nominal", "scale": {"domain": ["Modeling", "Test"], "range": ["#555555", "#a3a3a3"]}, "legend": {"title": null}},
     "strokeDash": {"field": "s", "type": "nominal", "scale": {"domain": ["Modeling", "Test"], "range": [[1, 0], [7, 4]]}, "legend": {"title": null}},
     "strokeWidth": {"field": "s", "type": "ordinal", "scale": {"domain": ["Modeling", "Test"], "range": [2.6, 2]}, "legend": {"title": null}},
     "order": {"field": "i", "type": "quantitative"}
    }},
   {"mark": {"type": "point", "opacity": 0},
    "encoding": {
     "x": {"field": "x", "type": "quantitative", "axis": {"orient": "top", "values": [-4, -2, 0, 2, 4], "labels": false, "title": null, "grid": false}},
     "y": {"field": "y", "type": "quantitative", "axis": {"orient": "right", "values": [-900, -450, 0, 450, 900], "labels": false, "title": null, "grid": false}}
    }}
  ],
  "resolve": {"axis": {"x": "independent", "y": "independent"}}
 },
 {
  "width": 440, "height": 339,
  "data": {"name": "b"},
  "title": {"text": "(b) TW2", "orient": "bottom", "offset": 6, "dx": -9},
  "layer": [
   {"mark": {"type": "line", "strokeJoin": "round"},
    "encoding": {
     "x": {"field": "x", "type": "quantitative", "scale": {"domain": [-2, 2.455], "nice": false, "zero": false}, "axis": {"values": [-2, -1, 0, 1, 2], "title": "Drift, %", "grid": true}},
     "y": {"field": "y", "type": "quantitative", "scale": {"domain": [-400, 250], "nice": false}, "axis": {"values": [-400, -200, 0, 250], "title": "Base Shear, kN", "grid": true, "titlePadding": 7, "minExtent": 48, "maxExtent": 48}},
     "color": {"field": "s", "type": "nominal", "scale": {"domain": ["Modeling", "Test"], "range": ["#555555", "#a3a3a3"]}, "legend": {"title": null}},
     "strokeDash": {"field": "s", "type": "nominal", "scale": {"domain": ["Modeling", "Test"], "range": [[1, 0], [7, 4]]}, "legend": {"title": null}},
     "strokeWidth": {"field": "s", "type": "ordinal", "scale": {"domain": ["Modeling", "Test"], "range": [2.6, 2]}, "legend": {"title": null}},
     "order": {"field": "i", "type": "quantitative"}
    }},
   {"mark": {"type": "point", "opacity": 0},
    "encoding": {
     "x": {"field": "x", "type": "quantitative", "axis": {"orient": "top", "values": [-2, -1, 0, 1, 2], "labels": false, "title": null, "grid": false}},
     "y": {"field": "y", "type": "quantitative", "axis": null}
    }}
  ],
  "resolve": {"axis": {"x": "independent", "y": "independent"}}
 }
],
"resolve": {"scale": {"color": "independent", "strokeDash": "independent", "strokeWidth": "independent"}, "legend": {"color": "independent", "strokeDash": "independent", "strokeWidth": "independent"}}
}
